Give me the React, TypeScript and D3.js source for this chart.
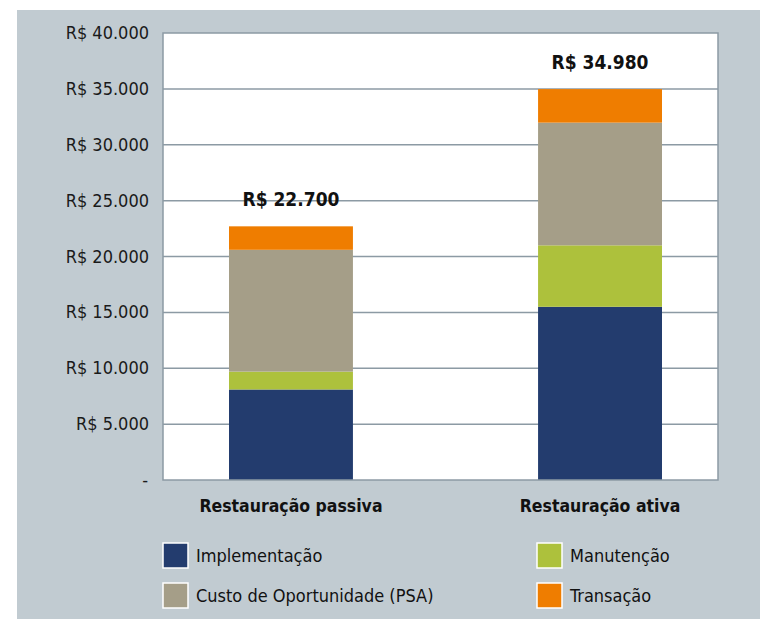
import React, { useEffect, useRef } from 'react';
import * as d3 from 'd3';

// categorias e séries
const categories = ['Restauração passiva', 'Restauração ativa'];
const seriesNames = ['Implementação', 'Manutenção', 'Custo de Oportunidade (PSA)', 'Transação'];
const implementacao = [8100, 15500];
const manutencao = [1600, 5500];
const custoOportunidade = [10900, 10980];
const transacao = [2100, 3000];
const totalLabels = ['R$ 22.700', 'R$ 34.980'];
const yTicks = [0, 5000, 10000, 15000, 20000, 25000, 30000, 35000, 40000];

const colors = ['#233c6e', '#adc13c', '#a59e88', '#ef7d00'];
const FONT = '"DejaVu Sans Condensed", "Liberation Sans Narrow", sans-serif';

const App = () => {
    const ref = useRef<SVGSVGElement | null>(null);

    useEffect(() => {
        const width = 760, height = 619;
        const svg = d3.select(ref.current);
        svg.selectAll('*').remove();

        // fundo
        svg.append('rect').attr('x', 0).attr('y', 0).attr('width', width).attr('height', height).attr('fill', '#fff');
        svg.append('rect').attr('x', 17).attr('y', 10).attr('width', width - 17).attr('height', height - 10).attr('fill', '#c1cbd1');

        const plot = { left: 163, right: 718, top: 33, bottom: 480 };

        const rows = categories.map((c, i) => ({
            name: c,
            [seriesNames[0]]: implementacao[i],
            [seriesNames[1]]: manutencao[i],
            [seriesNames[2]]: custoOportunidade[i],
            [seriesNames[3]]: transacao[i]
        }));
        const stacked = d3.stack<any>().keys(seriesNames)(rows);

        // barras de 229 a 662
        const x = d3.scaleBand()
            .domain(categories)
            .range([229, 662])
            .paddingInner(0.599)
            .paddingOuter(0);

        const y = d3.scaleLinear()
            .domain([0, 40000])
            .range([plot.bottom, plot.top]);

        // área do gráfico
        svg.append('rect')
            .attr('x', plot.left).attr('y', plot.top)
            .attr('width', plot.right - plot.left).attr('height', plot.bottom - plot.top)
            .attr('fill', '#fff');

        // linhas de grade
        svg.append('g')
            .selectAll('line')
            .data(yTicks.filter(t => t > 0 && t < 40000))
            .enter()
            .append('line')
            .attr('x1', plot.left).attr('x2', plot.right)
            .attr('y1', d => y(d)).attr('y2', d => y(d))
            .attr('stroke', '#8c9aa4').attr('stroke-width', 1.5);

        // rótulos do eixo y
        const fmt = d3.format(',');
        svg.append('g')
            .selectAll('text')
            .data(yTicks)
            .enter()
            .append('text')
            .attr('x', d => d === 0 ? 148 : 149)
            .attr('y', d => y(d) + 6)
            .attr('text-anchor', 'end')
            .attr('font-family', FONT)
            .attr('font-size', 18)
            .attr('fill', '#1a1a1a')
            .text(d => d === 0 ? '-' : 'R$ ' + fmt(d).replace(/,/g, '.'));

        // barras empilhadas
        svg.append('g')
            .selectAll('g')
            .data(stacked)
            .enter()
            .append('g')
            .attr('fill', (d, i) => colors[i])
            .selectAll('rect')
            .data(d => d)
            .enter()
            .append('rect')
            .attr('x', d => x(d.data.name) as number)
            .attr('width', x.bandwidth())
            .attr('y', d => y(d[1]))
            .attr('height', d => y(d[0]) - y(d[1]));

        // borda
        svg.append('rect')
            .attr('x', plot.left).attr('y', plot.top)
            .attr('width', plot.right - plot.left).attr('height', plot.bottom - plot.top)
            .attr('fill', 'none')
            .attr('stroke', '#8c9aa4').attr('stroke-width', 1.5);

        // totais
        const top = stacked[stacked.length - 1];
        svg.append('g')
            .selectAll('text')
            .data(top)
            .enter()
            .append('text')
            .attr('x', d => (x(d.data.name) as number) + x.bandwidth() / 2)
            .attr('y', d => y(d[1]) - 20)
            .attr('text-anchor', 'middle')
            .attr('font-family', FONT)
            .attr('font-weight', 'bold')
            .attr('font-size', 19)
            .attr('fill', '#111')
            .text((d, i) => totalLabels[i]);

        // rótulos das categorias
        svg.append('g')
            .selectAll('text')
            .data(categories)
            .enter()
            .append('text')
            .attr('x', d => (x(d) as number) + x.bandwidth() / 2)
            .attr('y', 512)
            .attr('text-anchor', 'middle')
            .attr('font-family', FONT)
            .attr('font-weight', 'bold')
            .attr('font-size', 17.5)
            .attr('fill', '#111')
            .text(d => d);

        // legenda
        const legendPos = [[163, 543], [537, 543], [163, 583], [537, 583]];
        const legend = svg.append('g')
            .selectAll('g')
            .data(seriesNames)
            .enter()
            .append('g')
            .attr('transform', (d, i) => 'translate(' + legendPos[i][0] + ',' + legendPos[i][1] + ')');
        legend.append('rect')
            .attr('width', 25).attr('height', 25)
            .attr('fill', (d, i) => colors[i])
            .attr('stroke', '#fff').attr('stroke-width', 1.5);
        legend.append('text')
            .attr('x', 33).attr('y', 19)
            .attr('font-family', FONT)
            .attr('font-size', 18)
            .attr('fill', '#111')
            .text(d => d);
    }, []);

    return (
        <svg ref={ref} width={760} height={619}
             style={{ position: 'absolute', left: 0, top: 0, display: 'block' }} />
    );
};

export default App;
